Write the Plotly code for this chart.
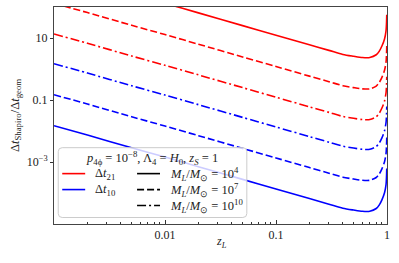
import plotly.graph_objects as go

# lens redshift samples
z_L = [0.001, 0.002, 0.005, 0.01, 0.02, 0.05, 0.1, 0.2, 0.3, 0.4, 0.5, 0.6,
       0.7, 0.8, 0.85, 0.9, 0.95, 0.98, 0.99, 0.995]

# Delta t_21 (red)
dt21_M4 = [1349, 676, 262.7, 131.8, 64.6, 25.1, 12.3, 6.03, 3.99, 2.95, 2.57, 2.34,
           2.34, 2.88, 3.71, 5.50, 9.30, 16.96, 30.9, 56.3]
dt21_M7 = [131.8, 66.0, 25.7, 12.88, 6.31, 2.45, 1.203, 0.589, 0.390, 0.289, 0.251, 0.229,
           0.229, 0.282, 0.363, 0.537, 0.909, 1.658, 3.02, 5.50]
dt21_M10 = [13.5, 6.76, 2.63, 1.318, 0.646, 0.251, 0.123, 0.0603, 0.0399, 0.0295, 0.0257, 0.0234,
            0.0234, 0.0288, 0.0371, 0.055, 0.093, 0.170, 0.309, 0.563]
# Delta t_10 (blue)
dt10_M4 = [1.48e-2, 7.41e-3, 2.88e-3, 1.445e-3, 7.08e-4, 2.75e-4, 1.35e-4, 6.61e-5, 4.37e-5, 3.24e-5,
           2.82e-5, 2.57e-5, 2.57e-5, 3.16e-5, 4.07e-5, 6.03e-5, 1.02e-4, 1.86e-4, 3.39e-4, 6.17e-4]
dt10_M7 = [0.148, 0.0741, 0.0288, 0.01445, 7.08e-3, 2.75e-3, 1.35e-3, 6.61e-4, 4.37e-4, 3.24e-4,
           2.82e-4, 2.57e-4, 2.57e-4, 3.16e-4, 4.07e-4, 6.03e-4, 1.02e-3, 1.86e-3, 3.39e-3, 6.17e-3]
dt10_M10 = [1.48, 0.741, 0.288, 0.1445, 0.0708, 0.0275, 0.0135, 6.61e-3, 4.37e-3, 3.24e-3,
            2.82e-3, 2.57e-3, 2.57e-3, 3.16e-3, 4.07e-3, 6.03e-3, 0.0102, 0.0186, 0.0339, 0.0617]

x_tickvals = [0.01, 0.1, 1]
x_ticktext = ["0.01", "0.1", "1"]
x_minor = [0.002, 0.003, 0.004, 0.005, 0.006, 0.007, 0.008, 0.009,
           0.02, 0.03, 0.04, 0.05, 0.06, 0.07, 0.08, 0.09,
           0.2, 0.3, 0.4, 0.5, 0.6, 0.7, 0.8, 0.9]
y_tickvals = [10, 0.1, 0.001]
y_ticktext = ["10", "0.1", "10<sup>\u22123</sup>"]

RED = "#ff0000"
BLUE = "#0000ff"
SOLID = "solid"
DASH = "7px,3px"
DASHDOT = "9px,3px,2px,3px"
LW = 1.6
FONT = "Liberation Serif"

series = [
    (dt21_M4, RED, SOLID), (dt21_M7, RED, DASH), (dt21_M10, RED, DASHDOT),
    (dt10_M4, BLUE, SOLID), (dt10_M7, BLUE, DASH), (dt10_M10, BLUE, DASHDOT),
]

fig = go.Figure()
for ys, c, d in series:
    fig.add_trace(go.Scatter(x=z_L, y=ys, mode="lines",
                             line=dict(color=c, width=LW, dash=d, shape="spline", smoothing=0.8),
                             showlegend=False, hoverinfo="skip"))

# plot area in px: x 53.75..387.5, y 7..224.5
fig.update_layout(
    width=399, height=263,
    margin=dict(l=54, r=11.5, t=7, b=38.5, autoexpand=False),
    paper_bgcolor="white", plot_bgcolor="white",
    font=dict(family=FONT, size=12, color="#222"),
    xaxis=dict(type="log", range=[-3, 0], tickvals=x_tickvals, ticktext=x_ticktext,
               ticks="inside", ticklen=4, tickcolor="#333", showgrid=False, zeroline=False,
               showline=True, linecolor="#444", linewidth=1, mirror=True, automargin=False,
               minor=dict(tickvals=x_minor, ticks="inside", ticklen=2, tickcolor="#333", showgrid=False),
               tickfont=dict(size=12, family=FONT)),
    yaxis=dict(type="log", range=[-5, 2], tickvals=y_tickvals, ticktext=y_ticktext,
               ticks="outside", ticklen=3, tickcolor="#333", showgrid=False, zeroline=False,
               showline=True, linecolor="#444", linewidth=1, mirror=True, automargin=False,
               tickfont=dict(size=12, family=FONT)),
)

def px2x(px):
    return (px - 53.75) / 333.75

def px2y(py):
    return (224.5 - py) / 217.5

# axis titles
fig.add_annotation(x=px2x(222), y=px2y(243), xref="paper", yref="paper",
                   text="<i>z<sub>L</sub></i>", showarrow=False, xanchor="center", yanchor="middle",
                   font=dict(size=12, family=FONT, color="#222"))
fig.add_annotation(x=px2x(15), y=px2y(116), xref="paper", yref="paper", textangle=-90,
                   text="\u0394<i>t</i><sub>Shapiro</sub>/\u0394<i>t</i><sub>geom</sub>",
                   showarrow=False, xanchor="center", yanchor="middle",
                   font=dict(size=12.5, family=FONT, color="#222"))

# manual legend (paper coords)
x0, x1, y0, y1 = px2x(58), px2x(247), px2y(218), px2y(148)
rx, ry = 4 / 333.75, 4 / 217.5
path = (f"M {x0+rx},{y0} L {x1-rx},{y0} Q {x1},{y0} {x1},{y0+ry} L {x1},{y1-ry} "
        f"Q {x1},{y1} {x1-rx},{y1} L {x0+rx},{y1} Q {x0},{y1} {x0},{y1-ry} "
        f"L {x0},{y0+ry} Q {x0},{y0} {x0+rx},{y0} Z")
fig.add_shape(type="path", path=path, xref="paper", yref="paper",
              fillcolor="rgba(255,255,255,0.8)", line=dict(color="#cccccc", width=1), layer="above")

samples = [
    (62, 85, 174, RED, SOLID), (62, 85, 190, BLUE, SOLID),
    (137, 160, 174, "black", SOLID), (137, 160, 190, "black", DASH), (137, 160, 206, "black", DASHDOT),
]
for a, b, yy, c, d in samples:
    fig.add_shape(type="line", xref="paper", yref="paper", x0=px2x(a), x1=px2x(b),
                  y0=px2y(yy), y1=px2y(yy), line=dict(color=c, width=LW, dash=d), layer="above")

texts = [
    (152, 158, "center", "<i>p</i><sub>4\u03d5</sub> = 10<sup>\u22128</sup>, \u039b<sub>4</sub> = <i>H</i><sub>0</sub>, <i>z<sub>S</sub></i> = 1"),
    (93, 174, "left", "\u0394<i>t</i><sub>21</sub>"),
    (93, 190, "left", "\u0394<i>t</i><sub>10</sub>"),
    (168, 174, "left", "<i>M<sub>L</sub></i>/<i>M</i><sub>\u2299</sub> = 10<sup>4</sup>"),
    (168, 190, "left", "<i>M<sub>L</sub></i>/<i>M</i><sub>\u2299</sub> = 10<sup>7</sup>"),
    (168, 206, "left", "<i>M<sub>L</sub></i>/<i>M</i><sub>\u2299</sub> = 10<sup>10</sup>"),
]
for tx, ty, al, t in texts:
    fig.add_annotation(x=px2x(tx), y=px2y(ty), xref="paper", yref="paper", text=t,
                       showarrow=False, xanchor=al, yanchor="middle",
                       font=dict(size=12.5, family=FONT, color="#222"))

fig.write_html("out.html", config={"displayModeBar": False},
               post_script="document.body.style.margin='0';document.body.style.overflow='hidden';")
